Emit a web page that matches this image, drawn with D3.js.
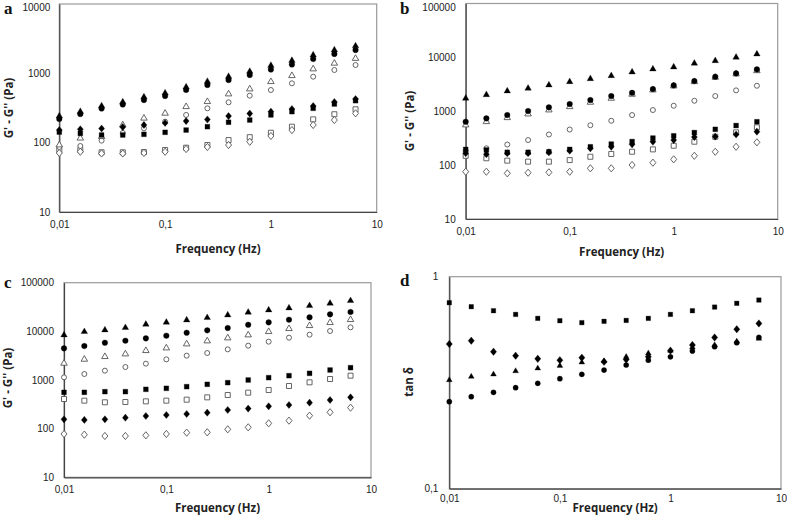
<!DOCTYPE html>
<html><head><meta charset="utf-8">
<script src="https://cdn.jsdelivr.net/npm/d3@7/dist/d3.min.js"></script>
<style>
html,body{margin:0;padding:0;background:#fff;}
svg{display:block;}
.tick text{font-family:"Liberation Sans",Arial,sans-serif;font-size:10px;fill:#222;}
.atitle{font-family:"Open Sans","Liberation Sans",sans-serif;font-size:11.5px;font-weight:bold;fill:#222;}
.plabel{font-family:"Liberation Serif","DejaVu Serif",serif;font-size:17px;font-weight:bold;fill:#111;}
</style>
</head><body>
<svg id="chart" width="787" height="523"></svg>
<script>
// ---------------- DATA ----------------
const freq = [0.01,0.0158,0.0251,0.0398,0.0631,0.1,0.158,0.251,0.398,0.631,1,1.58,2.51,3.98,6.31];
const xTicks = [0.01,0.1,1,10];
const xTickLabels = ["0,01","0,1","1","10"];
const yTicksA = [10,100,1000,10000];
const yTicksBC = [10,100,1000,10000,100000];
const yTicksD = [0.1,1];
const yTickLabelsD = ["0,1","1"];

// panel a
const aFilledTriangle = [242,281,338,386,456,520,635,762,900,1063,1297,1531,1838,2170,2479];
const aFilledCircle   = [219,259,311,355,412,471,575,679,801,946,1136,1341,1609,1900,2170];
const aOpenTriangle   = [92.5,116,122,180,225,265,330,390,503,594,757,924,1155,1395,1636];
const aOpenCircle     = [86.6,89.5,107,138,161,201,251,313,382,476,575,718,894,1117,1319];
const aFilledSquare   = [142,136,129,129,132,141,152,170,197,212,251,280,313,361,403];
const aOpenSquare     = [78.4,78.4,72.6,72.6,73.3,78.4,84.6,92.5,109,120,139,170,217,257,303];
const aFilledDiamond  = [152,156,160,168,180,192,205,216,242,263,280,306,338,386,426];
const aOpenDiamond    = [71,74,69.8,69.8,71,74,81,86.6,92.5,103,125,152,180,212,265];

// panel b
const bFilledTriangle = [1735,2024,2370,2660,3063,3527,4009,4557,5337,6066,6607,7741,8648,10000,11510];
const bFilledCircle   = [639,738,850,1009,1182,1360,1614,1914,2204,2582,3024,3634,4367,5049,5991];
const bOpenTriangle   = [555,639,757,887,1053,1212,1463,1735,2058,2474,2935,3527,4255,4900,5641];
const bOpenCircle     = [183,205,241,292,370,458,550,666,850,1053,1265,1566,1914,2442,2972];
const bFilledSquare   = [196,191,173,173,177,196,219,246,274,318,350,402,462,543,639];
const bOpenSquare     = [149,134,121,116,116,124,143,161,177,196,229,272,336,406,503];
const bFilledDiamond  = [166,159,166,166,173,185,205,219,243,272,292,332,339,370,417];
const bOpenDiamond    = [75.4,75.4,70.4,72.3,73.5,75.4,87.2,87.2,100.4,111,128,149,177,219,265];

// panel c
const cFilledTriangle = [8408,9844,10650,11890,13930,15310,17090,19090,21660,24570,27440,30170,33690,37620,42670];
const cFilledCircle   = [4475,4995,5850,6429,7183,8147,9389,10480,11710,13710,15310,17370,19400,22350,24960];
const cOpenTriangle   = [2200,2658,3017,3422,4005,4544,5491,6331,7295,8408,9844,11340,13080,15070,17370];
const cOpenCircle     = [1134,1328,1555,1850,2166,2658,3162,3588,4267,5076,6133,7411,8540,10160,12080];
const cFilledSquare   = [558,558,576,576,643,674,730,815,882,1000,1117,1227,1371,1605,1792];
const cOpenSquare     = [407,376,348,353,364,376,394,440,492,549,623,753,896,1048,1227];
const cFilledDiamond  = [155.5,151,155.5,168,182,191,200,213,242,258,288,306,342,388,440];
const cOpenDiamond    = [77.7,75.3,70.7,70.7,72.9,77.7,82.8,84.1,96.9,106.5,128.7,146,185,217,270];

// panel d (tan delta)
const dSquare   = [0.754,0.722,0.691,0.664,0.636,0.620,0.607,0.616,0.622,0.636,0.664,0.691,0.719,0.749,0.776];
const dDiamond  = [0.481,0.499,0.443,0.424,0.410,0.404,0.415,0.397,0.407,0.419,0.448,0.476,0.517,0.565,0.602];
const dTriangle = [0.3254,0.3376,0.3462,0.3589,0.3695,0.3803,0.3943,0.4001,0.419,0.435,0.448,0.464,0.476,0.495,0.510];
const dCircle   = [0.2573,0.2716,0.2847,0.2995,0.3141,0.3303,0.3462,0.3628,0.3833,0.404,0.419,0.446,0.4675,0.488,0.517];

// ---------------- SYMBOLS ----------------
const symTri = {draw(c,s){const h=s*0.866;c.moveTo(0,-h*2/3);c.lineTo(s/2,h/3);c.lineTo(-s/2,h/3);c.closePath();}};
const symSq = {draw(c,s){c.rect(-s/2,-s/2,s,s);}};
const symCirc = {draw(c,s){c.moveTo(s/2,0);c.arc(0,0,s/2,0,2*Math.PI);}};
const symDia = {draw(c,s){c.moveTo(0,-s*0.6);c.lineTo(s*0.5,0);c.lineTo(0,s*0.6);c.lineTo(-s*0.5,0);c.closePath();}};

const svg = d3.select("#chart");

function panel(cfg){
  const g = svg.append("g");
  const x = d3.scaleLog().domain([0.01,10]).range([cfg.x0,cfg.x1]);
  const y = d3.scaleLog().domain(cfg.yDomain).range([cfg.y1,cfg.y0]);
  // frame
  g.append("rect").attr("x",cfg.x0).attr("y",cfg.y0).attr("width",cfg.x1-cfg.x0).attr("height",cfg.y1-cfg.y0)
    .attr("fill","none").attr("stroke","#9a9a9a").attr("stroke-width",1.2);
  // axes
  const xa = g.append("g").attr("transform",`translate(0,${cfg.y1})`)
    .call(d3.axisBottom(x).tickValues(xTicks).tickFormat((d,i)=>xTickLabels[i]).tickSize(0).tickPadding(cfg.xPad));
  xa.select(".domain").attr("stroke","#444").attr("stroke-width",1.2);
  const ya = g.append("g").attr("transform",`translate(${cfg.x0},0)`)
    .call(d3.axisLeft(y).tickValues(cfg.yTicks).tickFormat((d,i)=>cfg.yLabels[i]).tickSize(0).tickPadding(cfg.yPad));
  ya.select(".domain").attr("stroke","#444").attr("stroke-width",1.2);
  // keep the top tick label inside the picture
  ya.selectAll(".tick").each(function(d){
    const ty = y(d);
    if (ty < 7) d3.select(this).select("text").attr("dy", (0.32 + (7 - ty)/10) + "em");
  });
  // titles
  g.append("text").attr("class","atitle").attr("x",(cfg.x0+cfg.x1)/2).attr("y",cfg.xTitleY)
    .attr("text-anchor","middle").attr("dominant-baseline","middle").text("Frequency (Hz)");
  g.append("text").attr("class","atitle").attr("transform",`translate(${cfg.yTitleX},${cfg.yTitleY}) rotate(-90)`)
    .attr("text-anchor","middle").attr("dominant-baseline","middle").text(cfg.yTitle);
  g.append("text").attr("class","plabel").attr("x",cfg.lx).attr("y",cfg.ly).text(cfg.letter);
  // series
  cfg.series.forEach(s=>{
    const gen = d3.symbol().type(s.type).size(s.size);
    g.append("g").selectAll("path").data(freq.map((f,i)=>[f,s.values[i]])).join("path")
      .attr("d",gen)
      .attr("transform",d=>`translate(${x(d[0])},${y(d[1])})`)
      .attr("fill",s.open?"#fff":"#000")
      .attr("stroke",s.open?"#555":"#000")
      .attr("stroke-width",s.open?0.9:0.3);
  });
}

function gSeries(ft,fc,ot,oc,fs,os,fd,od){
  return [
    {values:os,type:symSq,size:5,open:true},
    {values:od,type:symDia,size:6,open:true},
    {values:oc,type:symCirc,size:5,open:true},
    {values:ot,type:symTri,size:6.5,open:true},
    {values:fs,type:symSq,size:4.8,open:false},
    {values:fd,type:symDia,size:6,open:false},
    {values:fc,type:symCirc,size:5.6,open:false},
    {values:ft,type:symTri,size:6.5,open:false}
  ];
}

panel({x0:59.3,x1:376.7,y0:4,y1:212,yDomain:[10,10000],yTicks:yTicksA,yLabels:yTicksA.map(String),
  xPad:9,yPad:9,xTitleY:250,yTitleX:10,yTitleY:108,yTitle:"G' - G'' (Pa)",letter:"a",lx:4,ly:14,
  series:gSeries(aFilledTriangle,aFilledCircle,aOpenTriangle,aOpenCircle,aFilledSquare,aOpenSquare,aFilledDiamond,aOpenDiamond)});

panel({x0:465.7,x1:777.7,y0:3.5,y1:219,yDomain:[10,100000],yTicks:yTicksBC,yLabels:yTicksBC.map(String),
  xPad:9,yPad:10,xTitleY:253,yTitleX:411,yTitleY:121,yTitle:"G' - G'' (Pa)",letter:"b",lx:400,ly:14,
  series:gSeries(bFilledTriangle,bFilledCircle,bOpenTriangle,bOpenCircle,bFilledSquare,bOpenSquare,bFilledDiamond,bOpenDiamond)});

panel({x0:64,x1:371,y0:282.7,y1:477.3,yDomain:[10,100000],yTicks:yTicksBC,yLabels:yTicksBC.map(String),
  xPad:9,yPad:10,xTitleY:509,yTitleX:9,yTitleY:378,yTitle:"G' - G'' (Pa)",letter:"c",lx:4,ly:288,
  series:gSeries(cFilledTriangle,cFilledCircle,cOpenTriangle,cOpenCircle,cFilledSquare,cOpenSquare,cFilledDiamond,cOpenDiamond)});

panel({x0:449.3,x1:781,y0:276.7,y1:488.7,yDomain:[0.1,1],yTicks:yTicksD,yLabels:yTickLabelsD,
  xPad:6,yPad:11,xTitleY:509,yTitleX:410,yTitleY:382,yTitle:"tan δ",letter:"d",lx:400,ly:286,
  series:[
    {values:dSquare,type:symSq,size:4.5,open:false},
    {values:dCircle,type:symCirc,size:5.2,open:false},
    {values:dTriangle,type:symTri,size:5.8,open:false},
    {values:dDiamond,type:symDia,size:6.2,open:false}
  ]});
</script>
</body></html>
